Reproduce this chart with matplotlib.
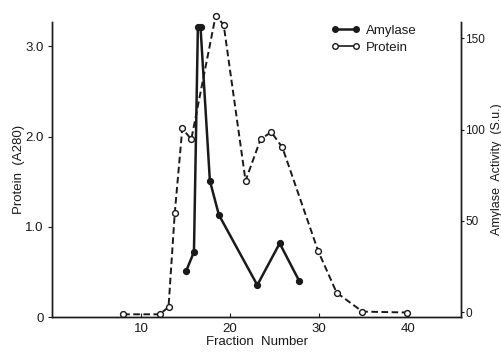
import matplotlib as mpl
import matplotlib.pyplot as plt
from matplotlib.lines import Line2D

# Protein (A280), left axis
PROTEIN_FRACTION = [8.0, 12.1, 13.1, 13.8, 14.65, 15.66, 18.4, 19.3, 21.76, 23.45, 24.65, 25.9, 29.93, 32.0, 34.9, 39.9]
PROTEIN_A280 = [0.03, 0.03, 0.11, 1.15, 2.09, 1.97, 3.34, 3.24, 1.51, 1.97, 2.05, 1.88, 0.73, 0.27, 0.06, 0.05]

# Amylase activity (S.u.), right axis
AMYLASE_FRACTION = [15.1, 15.96, 16.4, 16.7, 17.75, 18.76, 23.08, 25.6, 27.8]
AMYLASE_ACTIVITY = [22.7, 33.0, 156.0, 156.0, 72.0, 53.3, 14.8, 37.7, 17.0]

X_TICKS = [10, 20, 30, 40]
LEFT_TICKS = [0, 1.0, 2.0, 3.0]
LEFT_LABELS = ["0", "1.0", "2.0", "3.0"]
RIGHT_TICKS = [0, 50, 100, 150]

INK = "#1a1a1a"

mpl.rcParams.update({
    "font.family": ["Liberation Sans", "DejaVu Sans"],
    "font.size": 9.5,
    "xtick.labelsize": 9.5, "ytick.labelsize": 9.5,
    "text.color": INK, "axes.labelcolor": INK,
    "xtick.color": INK, "ytick.color": INK,
    "axes.edgecolor": INK,
})

fig = plt.figure(figsize=(5.02, 3.55), dpi=100)
ax = fig.add_axes([0.1036, 0.107, 0.815, 0.831])
ax2 = ax.twinx()

ax.plot(PROTEIN_FRACTION, PROTEIN_A280, color=INK, linestyle=(0, (3.4, 1.8)), linewidth=1.4,
        marker="o", markersize=4.2, markerfacecolor="white", markeredgecolor=INK,
        markeredgewidth=1.0, clip_on=False, zorder=3)
ax2.plot(AMYLASE_FRACTION, AMYLASE_ACTIVITY, color=INK, linestyle="-", linewidth=1.8,
         marker="o", markersize=4.2, markerfacecolor=INK, markeredgecolor=INK,
         clip_on=False, zorder=3)

ax.set_xlim(0, 46)
ax.set_ylim(0, 3.27)
ax2.set_ylim(-2.7, 159)

ax.set_xticks(X_TICKS)
ax.set_yticks(LEFT_TICKS)
ax.set_yticklabels(LEFT_LABELS)
ax2.set_yticks(RIGHT_TICKS)

for a in (ax, ax2):
    a.spines["top"].set_visible(False)
    for s in a.spines.values():
        s.set_linewidth(1.0)
ax.tick_params(axis="x", direction="in", length=3, width=0.8, pad=4)
ax.tick_params(axis="y", direction="out", length=3, width=0.8, pad=3)
ax2.tick_params(axis="y", direction="out", length=2, width=0.8, pad=1, labelsize=8.5)

ax.set_xlabel("Fraction  Number", labelpad=1)
ax.set_ylabel("Protein  (A280)", labelpad=0)
ax2.set_ylabel("Amylase  Activity  (S.u.)", fontsize=9)
ax2.yaxis.set_label_coords(1.074, 0.5)

handles = [
    Line2D([0], [0], color=INK, linewidth=1.8, marker="o", markersize=4,
           markerfacecolor=INK, markeredgecolor=INK),
    Line2D([0], [0], color=INK, linewidth=1.2, marker="o", markersize=4,
           markerfacecolor="white", markeredgecolor=INK),
]
ax.legend(handles, ["Amylase", "Protein"], frameon=False, numpoints=2,
          handlelength=2.2, handletextpad=0.4, labelspacing=0.4,
          loc="upper left", bbox_to_anchor=(0.67, 1.01), borderaxespad=0)

fig.savefig("out.png", dpi=100, facecolor="white")
